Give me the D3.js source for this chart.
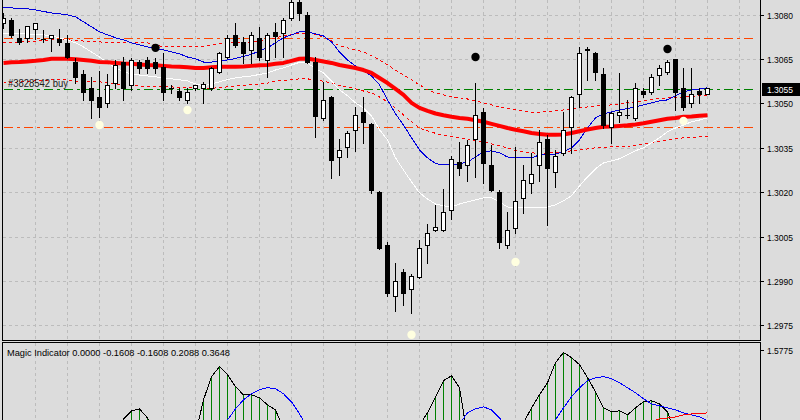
<!DOCTYPE html>
<html><head><meta charset="utf-8">
<script src="https://cdn.jsdelivr.net/npm/d3@7"></script>
<style>html,body{margin:0;padding:0;background:#dcdcdc;}svg{display:block;}</style>
</head><body><svg id="c" width="800" height="420"></svg>
<script>
// ---------- DATA ----------
const opens = [1.30772,1.30782,1.30722,1.30722,1.30752,1.30718,1.30722,1.30718,1.30705,1.30640,1.30600,1.30553,1.30522,1.30502,1.30569,1.30640,1.30563,1.30640,1.30647,1.30640,1.30624,1.30553,1.30542,1.30512,1.30553,1.30553,1.30553,1.30607,1.30657,1.30732,1.30708,1.30681,1.30722,1.30647,1.30742,1.30738,1.30789,1.30843,1.30799,1.30640,1.30451,1.30522,1.30319,1.30353,1.30411,1.30471,1.30431,1.30201,1.30022,1.29850,1.29931,1.29873,1.29914,1.30022,1.30073,1.30073,1.30140,1.30302,1.30292,1.30380,1.30471,1.30292,1.30201,1.30022,1.30079,1.30181,1.30231,1.30292,1.30380,1.30269,1.30333,1.30421,1.30532,1.30684,1.30671,1.30600,1.30421,1.30461,1.30461,1.30451,1.30542,1.30539,1.30596,1.30607,1.30650,1.30553,1.30502,1.30542,1.30532];
const highs = [1.30806,1.30789,1.30752,1.30762,1.30772,1.30748,1.30732,1.30752,1.30732,1.30654,1.30613,1.30590,1.30610,1.30600,1.30647,1.30657,1.30654,1.30647,1.30657,1.30654,1.30671,1.30563,1.30553,1.30553,1.30563,1.30573,1.30624,1.30674,1.30732,1.30772,1.30725,1.30742,1.30759,1.30738,1.30772,1.30789,1.30850,1.30850,1.30809,1.30657,1.30573,1.30525,1.30380,1.30407,1.30488,1.30522,1.30434,1.30204,1.30032,1.29961,1.29941,1.29924,1.30039,1.30093,1.30157,1.30211,1.30323,1.30370,1.30377,1.30569,1.30485,1.30360,1.30208,1.30133,1.30353,1.30292,1.30333,1.30411,1.30394,1.30343,1.30471,1.30525,1.30691,1.30691,1.30674,1.30620,1.30471,1.30603,1.30512,1.30569,1.30553,1.30600,1.30630,1.30647,1.30650,1.30620,1.30620,1.30553,1.30553];
const lows = [1.30755,1.30725,1.30701,1.30708,1.30718,1.30708,1.30678,1.30698,1.30654,1.30569,1.30512,1.30451,1.30455,1.30488,1.30553,1.30512,1.30546,1.30603,1.30603,1.30603,1.30512,1.30536,1.30512,1.30502,1.30546,1.30502,1.30546,1.30603,1.30654,1.30691,1.30637,1.30637,1.30647,1.30590,1.30657,1.30657,1.30782,1.30782,1.30638,1.30387,1.30444,1.30248,1.30258,1.30319,1.30340,1.30367,1.30198,1.30008,1.29850,1.29799,1.29819,1.29792,1.29910,1.29961,1.30069,1.30069,1.30110,1.30258,1.30238,1.30252,1.30231,1.30204,1.30012,1.30012,1.30062,1.30130,1.30198,1.30238,1.30089,1.30218,1.30326,1.30333,1.30488,1.30580,1.30580,1.30417,1.30367,1.30438,1.30451,1.30444,1.30522,1.30532,1.30563,1.30600,1.30478,1.30478,1.30488,1.30502,1.30532];
const closes = [1.30789,1.30732,1.30708,1.30762,1.30772,1.30719,1.30732,1.30708,1.30657,1.30590,1.30539,1.30512,1.30488,1.30563,1.30630,1.30553,1.30647,1.30620,1.30620,1.30620,1.30539,1.30552,1.30522,1.30539,1.30563,1.30566,1.30620,1.30671,1.30722,1.30698,1.30671,1.30732,1.30657,1.30732,1.30728,1.30782,1.30843,1.30806,1.30640,1.30458,1.30512,1.30309,1.30343,1.30400,1.30461,1.30438,1.30208,1.30012,1.29860,1.29900,1.29860,1.29917,1.30012,1.30062,1.30083,1.30133,1.30313,1.30282,1.30360,1.30461,1.30299,1.30208,1.30032,1.30073,1.30171,1.30242,1.30262,1.30370,1.30282,1.30323,1.30411,1.30522,1.30671,1.30681,1.30607,1.30427,1.30468,1.30471,1.30462,1.30553,1.30532,1.30590,1.30620,1.30640,1.30539,1.30488,1.30532,1.30532,1.30553];

const maSlow = [1.30637,1.30639,1.30640,1.30642,1.30644,1.30647,1.30651,1.30651,1.30651,1.30649,1.30647,1.30644,1.30640,1.30639,1.30637,1.30635,1.30634,1.30632,1.30630,1.30629,1.30627,1.30625,1.30624,1.30622,1.30620,1.30620,1.30622,1.30624,1.30624,1.30624,1.30625,1.30627,1.30629,1.30630,1.30634,1.30637,1.30644,1.30651,1.30652,1.30647,1.30642,1.30637,1.30630,1.30625,1.30620,1.30613,1.30603,1.30586,1.30569,1.30549,1.30529,1.30502,1.30485,1.30475,1.30466,1.30460,1.30455,1.30451,1.30448,1.30443,1.30438,1.30431,1.30424,1.30417,1.30411,1.30406,1.30400,1.30397,1.30394,1.30394,1.30395,1.30400,1.30406,1.30412,1.30417,1.30421,1.30422,1.30424,1.30426,1.30429,1.30433,1.30438,1.30443,1.30448,1.30451,1.30455,1.30456,1.30458,1.30460];
const maFast = [1.30826,1.30823,1.30821,1.30820,1.30816,1.30811,1.30806,1.30803,1.30799,1.30793,1.30776,1.30759,1.30742,1.30732,1.30722,1.30715,1.30705,1.30698,1.30691,1.30686,1.30681,1.30674,1.30668,1.30657,1.30651,1.30640,1.30640,1.30644,1.30647,1.30652,1.30659,1.30666,1.30678,1.30688,1.30705,1.30722,1.30732,1.30742,1.30742,1.30735,1.30728,1.30708,1.30674,1.30647,1.30627,1.30610,1.30593,1.30563,1.30512,1.30465,1.30427,1.30384,1.30343,1.30316,1.30297,1.30292,1.30292,1.30296,1.30302,1.30319,1.30336,1.30340,1.30333,1.30319,1.30316,1.30316,1.30316,1.30326,1.30329,1.30329,1.30336,1.30350,1.30377,1.30417,1.30451,1.30465,1.30471,1.30478,1.30483,1.30488,1.30495,1.30502,1.30509,1.30512,1.30526,1.30539,1.30546,1.30549,1.30553];
const maWhite = [1.30738,1.30737,1.30735,1.30735,1.30733,1.30732,1.30728,1.30722,1.30715,1.30705,1.30691,1.30674,1.30657,1.30637,1.30620,1.30607,1.30600,1.30596,1.30593,1.30590,1.30586,1.30583,1.30580,1.30576,1.30566,1.30559,1.30566,1.30573,1.30581,1.30586,1.30590,1.30593,1.30598,1.30603,1.30613,1.30620,1.30630,1.30639,1.30637,1.30617,1.30603,1.30576,1.30546,1.30526,1.30502,1.30485,1.30458,1.30411,1.30377,1.30316,1.30275,1.30235,1.30198,1.30177,1.30160,1.30154,1.30150,1.30160,1.30167,1.30174,1.30181,1.30181,1.30167,1.30150,1.30147,1.30147,1.30147,1.30149,1.30150,1.30157,1.30171,1.30188,1.30221,1.30252,1.30279,1.30299,1.30306,1.30313,1.30326,1.30340,1.30350,1.30367,1.30384,1.30404,1.30417,1.30427,1.30438,1.30444,1.30451];
const envUpper = [1.30705,1.30706,1.30708,1.30710,1.30711,1.30713,1.30715,1.30715,1.30715,1.30713,1.30711,1.30710,1.30708,1.30706,1.30705,1.30705,1.30705,1.30705,1.30705,1.30698,1.30691,1.30691,1.30691,1.30691,1.30691,1.30694,1.30698,1.30701,1.30705,1.30705,1.30705,1.30708,1.30711,1.30715,1.30722,1.30728,1.30732,1.30738,1.30735,1.30732,1.30725,1.30711,1.30694,1.30688,1.30681,1.30674,1.30661,1.30647,1.30630,1.30613,1.30596,1.30580,1.30563,1.30546,1.30536,1.30529,1.30522,1.30519,1.30515,1.30509,1.30502,1.30495,1.30488,1.30483,1.30478,1.30475,1.30471,1.30471,1.30473,1.30475,1.30478,1.30482,1.30485,1.30488,1.30492,1.30493,1.30495,1.30499,1.30502,1.30505,1.30510,1.30514,1.30517,1.30519,1.30520,1.30522,1.30524,1.30526,1.30526];
const envLower = [1.30569,1.30571,1.30573,1.30575,1.30576,1.30578,1.30580,1.30580,1.30580,1.30576,1.30573,1.30573,1.30573,1.30569,1.30566,1.30563,1.30559,1.30559,1.30558,1.30556,1.30556,1.30556,1.30554,1.30553,1.30553,1.30549,1.30551,1.30554,1.30556,1.30559,1.30561,1.30563,1.30566,1.30569,1.30575,1.30578,1.30581,1.30583,1.30583,1.30580,1.30575,1.30569,1.30561,1.30556,1.30549,1.30542,1.30536,1.30522,1.30505,1.30485,1.30461,1.30438,1.30417,1.30407,1.30399,1.30392,1.30387,1.30384,1.30380,1.30375,1.30370,1.30363,1.30357,1.30350,1.30341,1.30336,1.30333,1.30331,1.30333,1.30335,1.30336,1.30340,1.30343,1.30346,1.30350,1.30351,1.30353,1.30353,1.30355,1.30358,1.30363,1.30368,1.30373,1.30377,1.30380,1.30384,1.30385,1.30387,1.30387];

const fractalUpIdx = [19, 59, 83];
const fractalUpPrice = [1.30688, 1.30657, 1.30684];
const fractalDownIdx = [12, 23, 51, 64, 85];
const fractalDownPrice = [1.30427, 1.30478, 1.29718, 1.29964, 1.30441];

const levelPrices = [1.3072, 1.3042];   // dash-dot orange levels
const orderPrice = 1.3055;              // green order line
const orderLabel = "#3828542 buy";
const currentPrice = 1.3055;
const priceTicks = [1.3080, 1.3065, 1.3050, 1.3035, 1.3020, 1.3005, 1.2990, 1.2975];

// Magic Indicator (sub window)
const histValues = [-0.35,-0.4,-0.42,-0.45,-0.5,-0.52,-0.5,-0.45,-0.4,-0.5,-0.6,-0.55,-0.45,-0.3,-0.1,0.248,0.404,0.442,0.267,-0.05,-0.3,-0.5,-0.45,-0.3,-0.05,0.618,1.066,1.261,1.105,0.871,0.715,0.715,0.657,0.520,0.423,0.05,-0.3,-0.6,-0.9,-1.2,-1.3,-1.4,-1.3,-1.1,-1.0,-1.1,-1.3,-1.5,-1.6,-1.4,-1.0,-0.5,0.13,0.365,0.676,0.988,1.086,0.852,-0.1,-0.4,-0.6,-0.7,-0.6,-0.4,-0.15,0.17,0.462,0.715,0.949,1.339,1.534,1.437,1.300,1.047,0.774,0.462,0.384,0.404,0.326,0.462,0.579,0.598,0.540,0.384,-0.05,-0.1,-0.12,-0.15,-0.1608];
const signalValues = [-0.3,-0.35,-0.4,-0.42,-0.44,-0.45,-0.45,-0.44,-0.42,-0.4,-0.38,-0.36,-0.34,-0.3,-0.25,-0.2,-0.15,-0.1,-0.08,-0.1,-0.15,-0.2,-0.25,-0.3,-0.3,-0.25,-0.15,-0.05,0.228,0.442,0.618,0.735,0.813,0.852,0.832,0.735,0.579,0.345,0.072,-0.2,-0.45,-0.65,-0.8,-0.9,-0.95,-0.95,-0.9,-0.85,-0.8,-0.75,-0.65,-0.55,-0.45,-0.35,-0.25,-0.15,-0.05,0.150,0.365,0.442,0.481,0.423,0.267,0.072,-0.1,-0.2,-0.2,-0.15,-0.05,0.228,0.462,0.676,0.852,0.988,1.047,1.066,1.027,0.949,0.852,0.754,0.637,0.540,0.501,0.462,0.423,0.365,0.326,0.287,0.2088];
const redValues = [-0.5,-0.5,-0.52,-0.54,-0.55,-0.55,-0.54,-0.52,-0.5,-0.48,-0.46,-0.44,-0.42,-0.4,-0.38,-0.36,-0.34,-0.32,-0.3,-0.3,-0.3,-0.31,-0.32,-0.33,-0.34,-0.34,-0.33,-0.32,-0.3,-0.28,-0.26,-0.24,-0.22,-0.2,-0.2,-0.2,-0.21,-0.22,-0.24,-0.26,-0.28,-0.3,-0.32,-0.34,-0.36,-0.38,-0.4,-0.42,-0.44,-0.46,-0.48,-0.5,-0.5,-0.5,-0.48,-0.46,-0.44,-0.42,-0.4,-0.38,-0.36,-0.34,-0.32,-0.3,-0.3,-0.3,-0.3,-0.28,-0.26,-0.24,-0.22,-0.2,-0.18,-0.16,-0.14,-0.12,-0.1,-0.08,-0.06,-0.1,0.05,0.19,0.248,0.267,0.287,0.326,0.345,0.345,0.3648];
const indTitle = "Magic Indicator 0.0000 -0.1608 -0.1608 0.2088 0.3648";
const indMax = 1.5775;

// ---------- DRAW ----------
const svg = d3.select('#c');
const FONT = "'Liberation Sans', Arial, sans-serif";
svg.append('rect').attr('width',800).attr('height',420).attr('fill','#dcdcdc');

const n = opens.length;
const x = d3.scaleLinear().domain([0, n-1]).range([3.5, 3.5 + 8*(n-1)]);
const y = d3.scaleLinear().domain([1.2975, 1.3080]).range([325.3, 14.7]);
const yi = d3.scaleLinear().domain([0, indMax]).range([431.7, 350.3]);

const defs = svg.append('defs');
defs.append('clipPath').attr('id','clipMain').append('rect').attr('x',3).attr('y',0).attr('width',757).attr('height',340);
defs.append('clipPath').attr('id','clipInd').append('rect').attr('x',3).attr('y',343).attr('width',757).attr('height',77);

const gridIdx = d3.range(4, 93, 4);
const GRID = '#bcbcbc';

// main panel
const main = svg.append('g').attr('clip-path','url(#clipMain)');
main.selectAll('line.vg').data(gridIdx).join('line')
  .attr('x1',d=>x(d)).attr('x2',d=>x(d)).attr('y1',0).attr('y2',340)
  .attr('stroke',GRID).attr('stroke-dasharray','3,3').attr('shape-rendering','crispEdges');
main.selectAll('line.hg').data(priceTicks).join('line')
  .attr('x1',3).attr('x2',760).attr('y1',d=>Math.round(y(d))+0.5).attr('y2',d=>Math.round(y(d))+0.5)
  .attr('stroke',GRID).attr('stroke-dasharray','3,3').attr('shape-rendering','crispEdges');

// level lines
main.selectAll('line.lvl').data(levelPrices).join('line')
  .attr('x1',4).attr('x2',757).attr('y1',d=>Math.round(y(d))+0.5).attr('y2',d=>Math.round(y(d))+0.5)
  .attr('stroke','#ff4500').attr('stroke-dasharray','9,4,3,4').attr('shape-rendering','crispEdges');
main.append('line').attr('x1',4).attr('x2',757).attr('y1',Math.round(y(orderPrice))+0.5).attr('y2',Math.round(y(orderPrice))+0.5)
  .attr('stroke','#008000').attr('stroke-dasharray','9,4,3,4').attr('shape-rendering','crispEdges');

const idx = d3.range(n);
const lineOf = arr => d3.line().x(i=>x(i)).y(i=>y(arr[i]))(idx);

main.append('path').attr('d',lineOf(envUpper)).attr('fill','none').attr('stroke','#ff0000').attr('stroke-dasharray','3,3').attr('shape-rendering','crispEdges');
main.append('path').attr('d',lineOf(envLower)).attr('fill','none').attr('stroke','#ff0000').attr('stroke-dasharray','3,3').attr('shape-rendering','crispEdges');
main.append('path').attr('d',lineOf(maWhite)).attr('fill','none').attr('stroke','#ffffff').attr('stroke-width',1).attr('shape-rendering','crispEdges');
main.append('path').attr('d',lineOf(maFast)).attr('fill','none').attr('stroke','#0000dd').attr('stroke-width',1).attr('shape-rendering','crispEdges');
main.append('path').attr('d',lineOf(maSlow)).attr('fill','none').attr('stroke','#ff0000').attr('stroke-width',4).attr('stroke-linejoin','round');

// candles
const cg = main.append('g');
idx.forEach(i => {
  const cx = x(i);
  const yo = y(opens[i]), yc = y(closes[i]);
  const yh = Math.round(y(highs[i])), yl = Math.round(y(lows[i]));
  cg.append('line').attr('x1',cx).attr('x2',cx).attr('y1',yh).attr('y2',yl+1).attr('stroke','#000');
  const top = Math.round(Math.min(yo,yc)), bot = Math.round(Math.max(yo,yc));
  const bull = closes[i] >= opens[i];
  if (bot - top < 1) {
    cg.append('line').attr('x1',cx-2.5).attr('x2',cx+2.5).attr('y1',top+0.5).attr('y2',top+0.5).attr('stroke','#000');
  } else {
    cg.append('rect').attr('x',cx-2).attr('y',top+0.5).attr('width',4).attr('height',bot-top)
      .attr('fill',bull?'#ffffff':'#000000').attr('stroke','#000');
  }
});

// fractal dots
main.selectAll('circle.fu').data(fractalUpIdx).join('circle')
  .attr('cx',d=>x(d)).attr('cy',(d,k)=>y(fractalUpPrice[k])).attr('r',4.2).attr('fill','#000');
main.selectAll('circle.fd').data(fractalDownIdx).join('circle')
  .attr('cx',d=>x(d)).attr('cy',(d,k)=>y(fractalDownPrice[k])).attr('r',4.2).attr('fill','#ffffe0');

// order label
main.append('text').attr('x',8).attr('y',Math.round(y(orderPrice))-2.5).attr('font-family',FONT).attr('font-size',10)
  .attr('fill','#202020').attr('textLength',60).attr('lengthAdjust','spacingAndGlyphs').text(orderLabel);

// frames
const fr = svg.append('g').attr('stroke','#000').attr('shape-rendering','crispEdges');
fr.append('line').attr('x1',2.5).attr('x2',2.5).attr('y1',0).attr('y2',341);
fr.append('line').attr('x1',760.5).attr('x2',760.5).attr('y1',0).attr('y2',341);
fr.append('line').attr('x1',2).attr('x2',761).attr('y1',340.5).attr('y2',340.5);
fr.append('line').attr('x1',2).attr('x2',761).attr('y1',342.5).attr('y2',342.5);
fr.append('line').attr('x1',2.5).attr('x2',2.5).attr('y1',342).attr('y2',420);
fr.append('line').attr('x1',760.5).attr('x2',760.5).attr('y1',342).attr('y2',420);

// price axis
const ax = svg.append('g');
priceTicks.forEach(t => {
  const yy = Math.round(y(t)) + 0.5;
  ax.append('line').attr('x1',761).attr('x2',764).attr('y1',yy).attr('y2',yy).attr('stroke','#000').attr('shape-rendering','crispEdges');
  ax.append('text').attr('x',767).attr('y',yy+3).attr('font-family',FONT).attr('font-size',8.5)
    .attr('fill','#000').attr('textLength',26).attr('lengthAdjust','spacingAndGlyphs').text(d3.format('.4f')(t));
});
const cy = Math.round(y(currentPrice)) + 0.5;
ax.append('rect').attr('x',762).attr('y',cy-6.5).attr('width',38).attr('height',13).attr('fill','#000');
ax.append('text').attr('x',767).attr('y',cy+3).attr('font-family',FONT).attr('font-size',8.5)
  .attr('fill','#fff').attr('textLength',26).attr('lengthAdjust','spacingAndGlyphs').text(d3.format('.4f')(currentPrice));

// indicator panel
const ind = svg.append('g').attr('clip-path','url(#clipInd)');
ind.selectAll('line.vg').data(gridIdx).join('line')
  .attr('x1',d=>x(d)).attr('x2',d=>x(d)).attr('y1',343).attr('y2',420)
  .attr('stroke',GRID).attr('stroke-dasharray','3,3').attr('shape-rendering','crispEdges');
ind.selectAll('line.hb').data(idx.filter(i=>histValues[i]>0)).join('line')
  .attr('x1',i=>x(i)).attr('x2',i=>x(i)).attr('y1',yi(0)).attr('y2',i=>yi(histValues[i]))
  .attr('stroke','#008000').attr('shape-rendering','crispEdges');
const indLine = arr => d3.line().x(i=>x(i)).y(i=>yi(arr[i]))(idx);
ind.append('path').attr('d',indLine(histValues)).attr('fill','none').attr('stroke','#000').attr('shape-rendering','crispEdges');
ind.append('path').attr('d',indLine(signalValues)).attr('fill','none').attr('stroke','#0000ff').attr('shape-rendering','crispEdges');
ind.append('path').attr('d',indLine(redValues)).attr('fill','none').attr('stroke','#ff0000').attr('shape-rendering','crispEdges');

svg.append('text').attr('x',7).attr('y',356).attr('font-family',FONT).attr('font-size',9.5).attr('fill','#000')
  .attr('textLength',223).attr('lengthAdjust','spacingAndGlyphs').text(indTitle);
const my = Math.round(yi(indMax)) + 0.5;
svg.append('line').attr('x1',761).attr('x2',764).attr('y1',my).attr('y2',my).attr('stroke','#000').attr('shape-rendering','crispEdges');
svg.append('text').attr('x',767).attr('y',my+3).attr('font-family',FONT).attr('font-size',8.5).attr('fill','#000')
  .attr('textLength',26).attr('lengthAdjust','spacingAndGlyphs').text(d3.format('.4f')(indMax));
</script></body></html>
